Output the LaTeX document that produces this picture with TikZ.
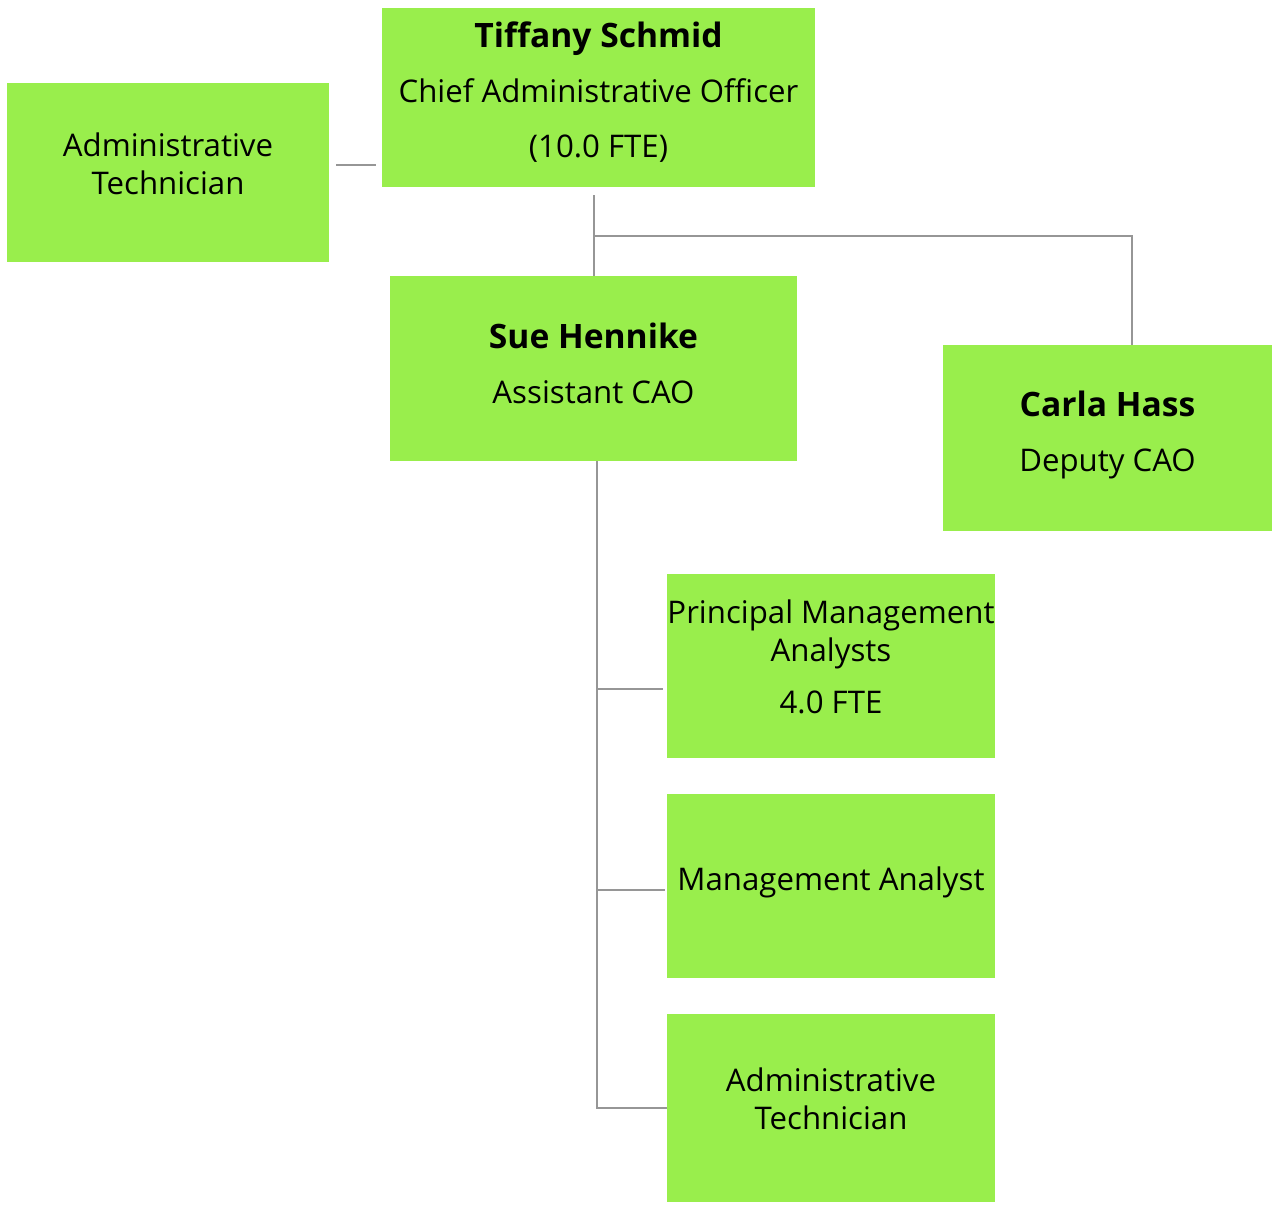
\documentclass[tikz,border=0pt]{standalone}
\usepackage{fontspec}
\setmainfont{Open Sans}
\definecolor{boxgreen}{HTML}{99EE4C}
\definecolor{linegray}{HTML}{969696}
\newcommand{\bname}[1]{{\fontsize{16.8}{27.5}\selectfont\bfseries #1}}
\begin{document}
\begin{tikzpicture}[x=0.5pt,y=-0.5pt,
  box/.style={rectangle, fill=boxgreen, draw=none, inner sep=0pt, anchor=center},
  txt/.style={align=center, inner sep=0pt, text=black, font=\fontsize{15.6}{19}\selectfont},
  txtwide/.style={align=center, inner sep=0pt, text=black, font=\fontsize{15.6}{27.5}\selectfont},
  conn/.style={draw=linegray, line width=1pt}]
\useasboundingbox[fill=white] (0,0) rectangle (1273,1204);

% boxes
\node[box, minimum width=161pt, minimum height=89.5pt] (at1) at (168,172.5) {};
\node[box, minimum width=216.5pt, minimum height=89.5pt] (cao) at (598.5,97.5) {};
\node[box, minimum width=203.5pt, minimum height=92.5pt] (sue) at (593.5,368.5) {};
\node[box, minimum width=164.5pt, minimum height=93pt] (carla) at (1107.5,438) {};
\node[box, minimum width=164pt, minimum height=92pt] (pma) at (831,666) {};
\node[box, minimum width=164pt, minimum height=92pt] (ma) at (831,886) {};
\node[box, minimum width=164pt, minimum height=94pt] (at2) at (831,1108) {};

% texts
\node[txtwide] (caot) at (598.5,92) {\bname{Tiffany Schmid}\\Chief Administrative Officer\\(10.0 FTE)};
\node[txt] (at1t) at (168,164) {Administrative\\Technician};
\node[txtwide] (suet) at (593.5,363) {\bname{Sue Hennike}\\Assistant CAO};
\node[txtwide] (carlat) at (1107.5,435) {\bname{Carla Hass}\\Deputy CAO};
\node[txt] (pmat) at (831,657) {Principal Management\\Analysts\\[7pt]4.0 FTE};
\node[txt] (mat) at (831,882) {Management Analyst};
\node[txt] (at2t) at (831,1099) {Administrative\\Technician};

% connectors
\draw[conn] ([xshift=3.5pt,yshift=3.75pt]at1.east) -- ([xshift=-3pt,yshift=3.75pt]at1.east -| cao.west);
\coordinate (top) at ([yshift=-4pt]cao.south -| sue.north);
\draw[conn] (top) -- (sue.north);
\coordinate (j1) at (594,236);
\draw[conn] (j1) -| ([xshift=12.25pt]carla.north);
\coordinate (s0) at ([xshift=1.75pt]sue.south);
\draw[conn] (s0) |- (at2.west);
\coordinate (b1) at ([xshift=-2pt,yshift=-11.5pt]pma.west);
\draw[conn] (b1) -- (s0 |- b1);
\coordinate (b2) at ([xshift=-1pt,yshift=-2pt]ma.west);
\draw[conn] (b2) -- (s0 |- b2);
\end{tikzpicture}
\end{document}
